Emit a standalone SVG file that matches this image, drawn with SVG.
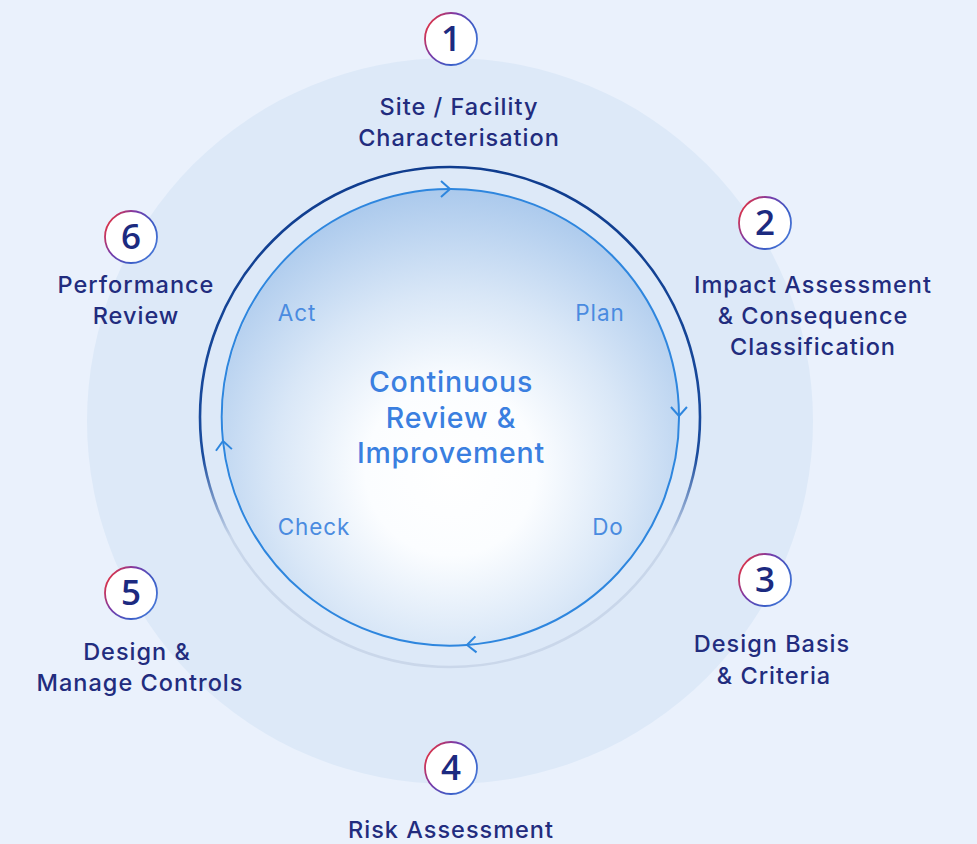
<svg xmlns="http://www.w3.org/2000/svg" width="977" height="844" viewBox="0 0 977 844">
  <defs>
    <style>
      .label { font-family: Inter, "Open Sans", "Liberation Sans", sans-serif; font-size: 23.5px; font-weight: 500; fill: #222c7e; text-anchor: middle; letter-spacing: 1px; }
      .num { font-family: "Open Sans", "Liberation Sans", sans-serif; font-size: 35px; font-weight: 600; fill: #1c2a80; text-anchor: middle; }
      .badge { fill: #ffffff; stroke: url(#badgeStroke); stroke-width: 1.8; }
      .phase { font-family: Inter, "Open Sans", "Liberation Sans", sans-serif; font-size: 22.5px; font-weight: 400; fill: #4a8be0; text-anchor: middle; letter-spacing: 0.9px; }
      .core { font-family: Inter, "Open Sans", "Liberation Sans", sans-serif; font-size: 28.5px; font-weight: 500; fill: #3a7fe0; text-anchor: middle; letter-spacing: 0.8px; }
      .arc { fill: none; stroke: #2e86de; stroke-width: 2; }
    </style>
    <linearGradient id="badgeStroke" x1="0" y1="0.2" x2="1" y2="0.8">
      <stop offset="0" stop-color="#e8323c"/>
      <stop offset="0.35" stop-color="#7a3aa8"/>
      <stop offset="0.7" stop-color="#3b5cc6"/>
      <stop offset="1" stop-color="#4a7ad8"/>
    </linearGradient>
    <linearGradient id="outerRing" gradientUnits="userSpaceOnUse" x1="0" y1="167" x2="0" y2="667">
      <stop offset="0" stop-color="#0f3c8e"/>
      <stop offset="0.58" stop-color="#1a4c9e"/>
      <stop offset="0.74" stop-color="#c8d6ea"/>
      <stop offset="1" stop-color="#cad7ea"/>
    </linearGradient>
    <radialGradient id="coreFill" gradientUnits="userSpaceOnUse" cx="451" cy="470" r="285">
      <stop offset="0" stop-color="#ffffff"/>
      <stop offset="0.3" stop-color="#fbfdff"/>
      <stop offset="0.62" stop-color="#d9e7f7"/>
      <stop offset="1" stop-color="#a9c8ec"/>
    </radialGradient>
    <marker id="chevron" markerUnits="userSpaceOnUse" markerWidth="24" markerHeight="24" refX="0" refY="0" viewBox="-12 -12 24 24" orient="auto" overflow="visible">
      <path d="M-9,-8 L0,0 L-9,8" fill="none" stroke="#2e86de" stroke-width="2"/>
    </marker>
  </defs>

  <!-- backdrop and halo disc -->
  <rect x="0" y="0" width="977" height="844" fill="#eaf1fc"/>
  <circle cx="450" cy="421" r="363" fill="#dde9f8"/>

  <!-- cycle rings -->
  <g id="cycle">
    <circle cx="450" cy="417" r="250" fill="none" stroke="url(#outerRing)" stroke-width="2.6"/>
    <circle cx="451" cy="417" r="228" fill="url(#coreFill)"/>
  </g>

  <!-- PDCA loop arcs with direction chevrons -->
  <g id="connectors">
    <path class="arc" d="M223,441 A228,228 0 0 1 450,189" marker-end="url(#chevron)"/>
    <path class="arc" d="M450,189 A228,228 0 0 1 679,416" marker-end="url(#chevron)"/>
    <path class="arc" d="M679,416 A228,228 0 0 1 467,645" marker-end="url(#chevron)"/>
    <path class="arc" d="M467,645 A228,228 0 0 1 223,441" marker-end="url(#chevron)"/>
  </g>

  <g id="phases">
    <text class="phase" x="600" y="321">Plan</text>
    <text class="phase" x="608" y="535">Do</text>
    <text class="phase" x="314" y="535">Check</text>
    <text class="phase" x="297" y="321">Act</text>
  </g>

  <g id="center">
    <text class="core" x="451" y="392">Continuous</text>
    <text class="core" x="451" y="428">Review &amp;</text>
    <text class="core" x="451" y="463">Improvement</text>
  </g>

  <g id="step-1">
    <circle class="badge" cx="451" cy="39" r="26"/>
    <text class="num" x="451" y="51">1</text>
    <text class="label" x="459" y="115">Site / Facility</text>
    <text class="label" x="459" y="146">Characterisation</text>
  </g>

  <g id="step-2">
    <circle class="badge" cx="765" cy="223" r="26"/>
    <text class="num" x="765" y="235">2</text>
    <text class="label" x="813" y="293">Impact Assessment</text>
    <text class="label" x="813" y="324">&amp; Consequence</text>
    <text class="label" x="813" y="355">Classification</text>
  </g>

  <g id="step-3">
    <circle class="badge" cx="765" cy="580" r="26"/>
    <text class="num" x="765" y="592">3</text>
    <text class="label" x="772" y="652">Design Basis</text>
    <text class="label" x="774" y="684">&amp; Criteria</text>
  </g>

  <g id="step-4">
    <circle class="badge" cx="451" cy="768" r="26"/>
    <text class="num" x="451" y="780">4</text>
    <text class="label" x="451" y="838">Risk Assessment</text>
  </g>

  <g id="step-5">
    <circle class="badge" cx="131" cy="593" r="26"/>
    <text class="num" x="131" y="605">5</text>
    <text class="label" x="137" y="660">Design &amp;</text>
    <text class="label" x="140" y="691">Manage Controls</text>
  </g>

  <g id="step-6">
    <circle class="badge" cx="131" cy="237" r="26"/>
    <text class="num" x="131" y="249">6</text>
    <text class="label" x="136" y="293">Performance</text>
    <text class="label" x="136" y="324">Review</text>
  </g>
</svg>
